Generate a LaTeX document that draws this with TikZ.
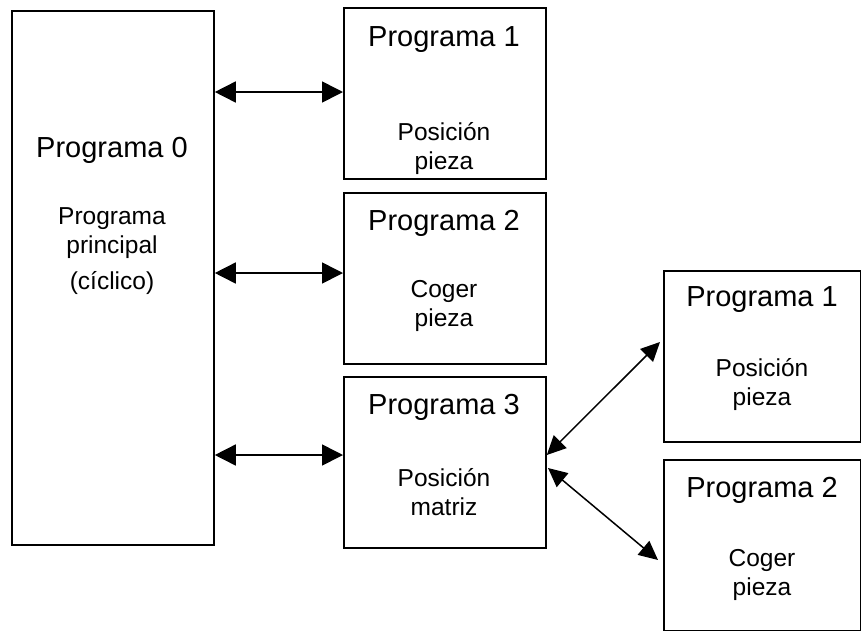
\documentclass[tikz,border=0pt]{standalone}
\usepackage{fontspec}
\setmainfont{Liberation Sans}
\usetikzlibrary{positioning,arrows.meta}

\tikzset{
    prog/.style={draw, line width=1.8pt, inner sep=0pt, anchor=north west},
    titulo/.style={font=\fontsize{29}{33}\selectfont},
    desc/.style={font=\fontsize{24.5}{29}\selectfont, align=center},
    enlace/.style={line width=1.6pt, {Triangle[length=21pt,width=21pt]}-{Triangle[length=21pt,width=21pt]}},
    enlaced/.style={line width=1.5pt, {Triangle[length=19pt,width=18pt]}-{Triangle[length=19pt,width=18pt]}}
}

\begin{document}
\begin{tikzpicture}[x=1pt,y=-1pt]
    \useasboundingbox (0,0) rectangle (861,630);

    % cajas
    \node[prog, minimum width=202pt, minimum height=534pt] (p0) at (11,10) {};
    \node[prog, minimum width=202pt, minimum height=171pt] (p1) at (343,7) {};
    \node[prog, minimum width=202pt, minimum height=171pt] (p2) at (343,192) {};
    \node[prog, minimum width=202pt, minimum height=171pt] (p3) at (343,376) {};
    \node[prog, minimum width=197pt, minimum height=171pt] (q1) at (663,270) {};
    \node[prog, minimum width=197pt, minimum height=171pt] (q2) at (663,459) {};

    % textos
    \node[titulo] (t0) at (112,150) {Programa 0};
    \node[desc] (d0) at (112,233) {Programa\\principal};
    \node[desc] (c0) at (112,283) {(cíclico)};

    \node[titulo] (t1) at (444,40) {Programa 1};
    \node[desc] (d1) at (444,149) {Posición\\pieza};

    \node[titulo] (t2) at (444,223) {Programa 2};
    \node[desc] (d2) at (444,306) {Coger\\pieza};

    \node[titulo] (t3) at (444,407) {Programa 3};
    \node[desc] (d3) at (444,492) {Posición\\matriz};

    \node[titulo] (u1) at (762,300) {Programa 1};
    \node[desc] (e1) at (762,385) {Posición\\pieza};

    \node[titulo] (u2) at (762,490) {Programa 2};
    \node[desc] (e2) at (762,575) {Coger\\pieza};

    % conexiones
    \draw[enlace] (p0.east |- 0,92) -- (p1.west |- 0,92);
    \draw[enlace] (p0.east |- 0,273) -- (p2.west |- 0,273);
    \draw[enlace] (p0.east |- 0,455) -- (p3.west |- 0,455);

    \draw[enlaced] (p3.east |- 0,455) -- (660,342);
    \draw[enlaced] (548,468) -- (658,560);
\end{tikzpicture}
\end{document}
